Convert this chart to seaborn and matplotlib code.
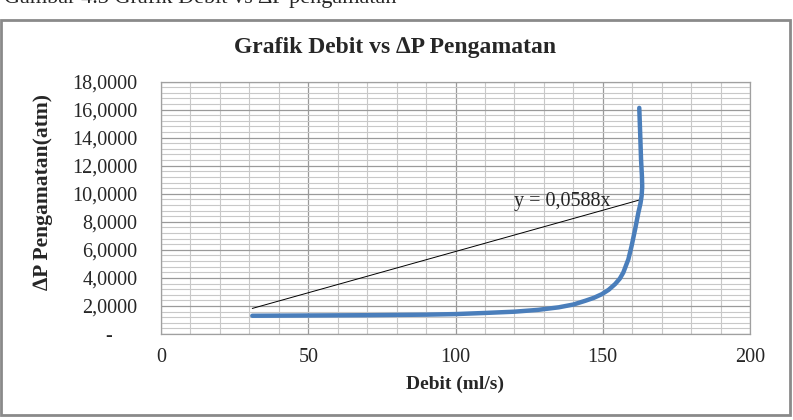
import matplotlib
matplotlib.use("Agg")
import matplotlib.pyplot as plt
import seaborn as sns
import pandas as pd
from matplotlib.ticker import MultipleLocator, FuncFormatter
from matplotlib.patches import Rectangle

# ---- data ----
debit = [31, 50, 70, 90, 100, 110, 120, 128, 135, 140, 144.1, 147, 149.7,
         152, 154.2, 155.8, 157.0, 158.7, 159.8, 161.0, 162.1, 162.8, 163.2,
         163.4, 163.3, 163.0, 162.7, 162.4]
delta_p = [1.30, 1.32, 1.34, 1.38, 1.42, 1.50, 1.59, 1.72, 1.90, 2.10, 2.37,
           2.58, 2.84, 3.15, 3.56, 3.95, 4.39, 5.33, 6.28, 7.47, 8.66, 9.3,
           9.84, 10.5, 11.26, 12.45, 14.35, 16.12]
trend_slope = 0.0588
trend_label = "y = 0,0588x"
title = "Grafik Debit vs \u2206P Pengamatan"
xlabel = "Debit (ml/s)"
ylabel = "\u2206P Pengamatan(atm)"
caption = "Gambar 4.3 Grafik Debit vs \u2206P pengamatan"

sns.set_theme(style="white")
plt.rcParams['font.family'] = ['Liberation Serif', 'DejaVu Serif']

fig = plt.figure(figsize=(7.93, 4.2), dpi=100)
ax = fig.add_axes([161/793, 1-334/420, (750-161)/793, (334-81.5)/420])

df = pd.DataFrame({"x": debit, "y": delta_p})
sns.lineplot(data=df, x="x", y="y", sort=False, ax=ax, color="#4a7ebb",
             linewidth=3.2, zorder=4)
ax.lines[-1].set_solid_joinstyle("round")
ax.lines[-1].set_solid_capstyle("round")

tx = [min(debit), max(debit)]
tdf = pd.DataFrame({"x": tx, "y": [trend_slope * v for v in tx]})
sns.lineplot(data=tdf, x="x", y="y", ax=ax, color="black", linewidth=0.7, zorder=3)
ax.text(119.8, 9.1, trend_label, fontsize=14.5, ha="left", va="baseline", zorder=5)

ax.set_xlim(0, 200)
ax.set_ylim(0, 18)
ax.xaxis.set_major_locator(MultipleLocator(50))
ax.xaxis.set_minor_locator(MultipleLocator(10))
ax.yaxis.set_major_locator(MultipleLocator(2))
ax.yaxis.set_minor_locator(MultipleLocator(0.4))
ax.grid(which="major", color="#9a9a9a", linewidth=0.9)
ax.grid(which="minor", color="#c8c8c8", linewidth=0.8)
ax.set_axisbelow(True)
for s in ax.spines.values():
    s.set_color("#a0a0a0")
    s.set_linewidth(0.9)

def yfmt(v, p):
    if abs(v) < 1e-9:
        return "-     "
    return f"{v:.4f}".replace(".", ",")
ax.yaxis.set_major_formatter(FuncFormatter(yfmt))
ax.tick_params(axis="both", which="both", length=0, labelsize=14.5)
ax.tick_params(axis="y", pad=17)
ax.tick_params(axis="x", pad=10)

ax.set_xlabel(xlabel, fontsize=14, fontweight="bold", labelpad=6)
ax.set_ylabel(ylabel, fontsize=15.5, fontweight="bold")
ax.yaxis.set_label_coords((53-161)/589, (334-192)/252.5)
fig.text(395/793, 1-47/420, title, fontsize=17, fontweight="bold",
         ha="center", va="center")

fig.patches.append(Rectangle((1/793, 5/420), 789/793, (420-20-5)/420,
                             transform=fig.transFigure, fill=False,
                             edgecolor="#8a8a8a", linewidth=2))
fig.text(0.005, 1-3/420, caption, fontsize=16, ha="left", va="baseline")

fig.savefig("out.png", dpi=100)
